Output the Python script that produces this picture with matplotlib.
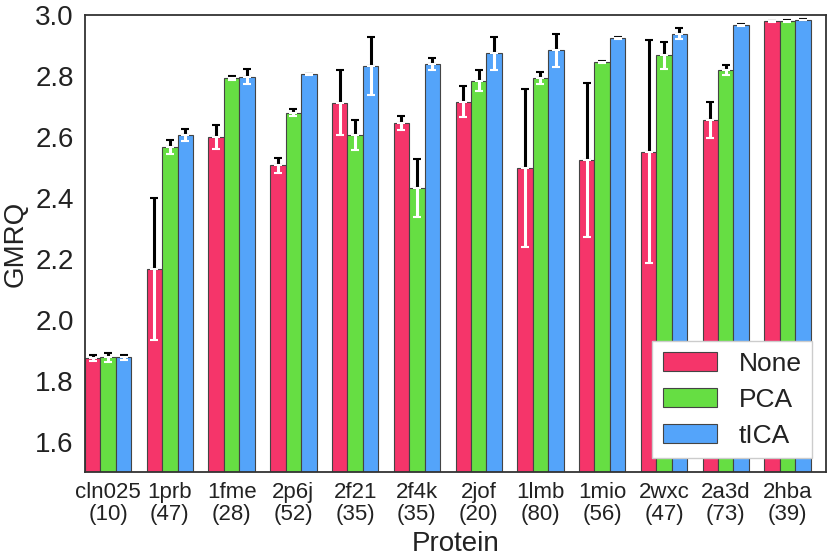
import numpy as np
import matplotlib
matplotlib.use("Agg")
import matplotlib.pyplot as plt

plt.rcParams["font.family"] = ["Liberation Sans", "DejaVu Sans"]

proteins = ["cln025", "1prb", "1fme", "2p6j", "2f21", "2f4k",
            "2jof", "1lmb", "1mio", "2wxc", "2a3d", "2hba"]
residues = [10, 47, 28, 52, 35, 35, 20, 80, 56, 47, 73, 39]

series = ["None", "PCA", "tICA"]
colors = ["#f5356a", "#66de43", "#54a4fa"]

none_vals = [1.875, 2.166, 2.600, 2.507, 2.712, 2.647, 2.716, 2.498, 2.523, 2.552, 2.655, 2.979]
none_err = [0.010, 0.232, 0.040, 0.025, 0.106, 0.023, 0.050, 0.260, 0.253, 0.365, 0.060, 0.002]

pca_vals = [1.876, 2.567, 2.793, 2.680, 2.606, 2.433, 2.785, 2.792, 2.845, 2.868, 2.819, 2.980]
pca_err = [0.015, 0.023, 0.006, 0.010, 0.050, 0.095, 0.034, 0.020, 0.003, 0.045, 0.017, 0.002]

tica_vals = [1.876, 2.607, 2.798, 2.805, 2.834, 2.840, 2.874, 2.884, 2.924, 2.938, 2.968, 2.985]
tica_err = [0.008, 0.020, 0.025, 0.003, 0.095, 0.020, 0.053, 0.055, 0.003, 0.018, 0.003, 0.002]

values = [none_vals, pca_vals, tica_vals]
errors = [none_err, pca_err, tica_err]

fig = plt.figure(figsize=(8.29, 5.56), dpi=100)
ax = fig.add_axes([0.1025, 0.151, 0.894, 0.822])

width = 0.25
x = np.arange(len(proteins))
for k, (name, vals, errs, c) in enumerate(zip(series, values, errors, colors)):
    pos = x + k * width
    ax.bar(pos, vals, width, align="edge", color=c, edgecolor="#444444",
           linewidth=0.8, label=name, zorder=2)
    centers = pos + width / 2
    errs = np.array(errs)
    zeros = np.zeros_like(errs)
    # upper half of the error bar in black, lower half in white
    ax.errorbar(centers, vals, yerr=[zeros, errs], fmt="none", ecolor="black",
                elinewidth=2.2, capsize=3, capthick=1.5, zorder=3)
    ax.errorbar(centers, vals, yerr=[errs, zeros], fmt="none", ecolor="white",
                elinewidth=2.2, capsize=3, capthick=1.5, zorder=3)

ax.set_xlim(0, len(proteins))
ax.set_ylim(1.5, 3.0)
yticks = np.arange(1.6, 3.01, 0.2)
ax.set_yticks(yticks)
ax.set_yticklabels([f"{v:.1f}" for v in yticks])
ax.set_xticks(x + 1.5 * width)
ax.set_xticklabels([f"{p}\n({r})" for p, r in zip(proteins, residues)],
                   fontsize=16, linespacing=1.1)
ax.tick_params(axis="y", labelsize=20, length=0, pad=8, labelcolor="#222222")
ax.tick_params(axis="x", length=0, pad=7, labelcolor="#222222")

ax.set_ylabel("GMRQ", fontsize=20, labelpad=5, color="#222222")
ax.set_xlabel("Protein", fontsize=20, labelpad=4, color="#222222")

for s in ax.spines.values():
    s.set_color("#333333")
    s.set_linewidth(1.3)

leg = ax.legend(loc="lower right", fontsize=19, handlelength=2.05,
                handleheight=0.72, frameon=True, fancybox=False, framealpha=1,
                borderpad=0.4, labelspacing=0.45, handletextpad=0.83,
                borderaxespad=0.53)
leg.get_frame().set_edgecolor("#cccccc")
leg.get_frame().set_linewidth(1.0)
for t in leg.get_texts():
    t.set_color("#222222")

fig.savefig("out.png", dpi=100)
